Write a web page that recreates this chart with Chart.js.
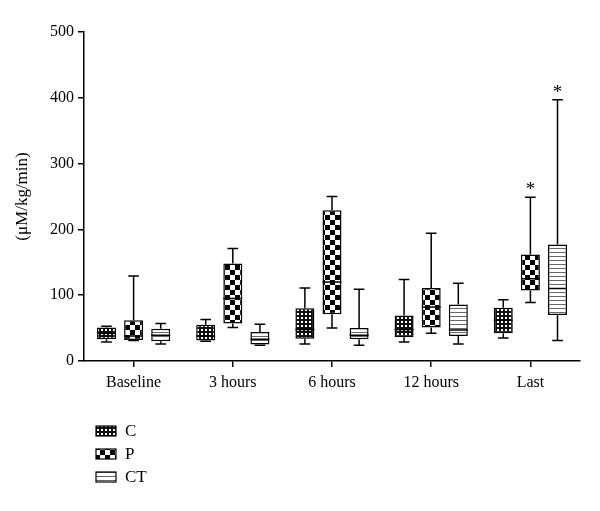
<!DOCTYPE html>
<html>
<head>
<meta charset="utf-8">
<script src="https://cdn.jsdelivr.net/npm/chart.js@4.4.0/dist/chart.umd.min.js"></script>
<style>
html, body { margin: 0; padding: 0; background: #fff; }
canvas { display: block; }
</style>
</head>
<body>
<canvas id="chart" width="600" height="511"></canvas>
<script>
// categories and box-plot summaries
var categories = ['Baseline', '3 hours', '6 hours', '12 hours', 'Last'];

var cMin = [29, 30, 26, 29, 35];
var cQ1  = [33, 31, 34, 36, 42];
var cMed = [42, 38, 48, 48, 62];
var cQ3  = [51, 55, 80, 69, 81];
var cMax = [53, 63, 111, 124, 93];

var pMin = [31, 51, 50, 42, 89];
var pQ1  = [32, 57, 71, 51, 107];
var pMed = [38, 95, 120, 82, 125];
var pQ3  = [62, 148, 229, 111, 162];
var pMax = [129, 171, 250, 194, 249];

var ctMin = [26, 24, 24, 26, 31];
var ctQ1  = [30, 25, 33, 38, 70];
var ctMed = [39, 33, 39, 47, 110];
var ctQ3  = [49, 44, 50, 86, 177];
var ctMax = [57, 56, 109, 118, 397];

var sigP  = ['', '', '', '', '*'];
var sigCT = ['', '', '', '', '*'];

var yTicks = [0, 100, 200, 300, 400, 500];

var serif = '"Liberation Serif", "DejaVu Serif", serif';

var canvas = document.getElementById('chart');
var ctx = canvas.getContext('2d');

function makePattern(kind) {
	var c = document.createElement('canvas');
	var x = c.getContext('2d');
	if (kind === 'fine') {
		c.width = 4; c.height = 4;
		x.fillStyle = '#111';
		x.fillRect(0, 0, 4, 4);
		x.fillStyle = '#fff';
		x.fillRect(1, 1, 2, 2);
	} else if (kind === 'coarse') {
		c.width = 10; c.height = 10;
		x.fillStyle = '#fff';
		x.fillRect(0, 0, 10, 10);
		x.fillStyle = '#000';
		x.fillRect(0, 0, 5, 5);
		x.fillRect(5, 5, 5, 5);
	} else {
		c.width = 4; c.height = 4;
		x.fillStyle = '#fff';
		x.fillRect(0, 0, 4, 4);
		x.fillStyle = '#666';
		x.fillRect(0, 0, 4, 1);
	}
	return ctx.createPattern(c, 'repeat');
}

function boxes(q1, q3) {
	return q1.map(function(v, i) { return [v, q3[i]]; });
}

var stats = [
	{ min: cMin, med: cMed, max: cMax, sig: null },
	{ min: pMin, med: pMed, max: pMax, sig: sigP },
	{ min: ctMin, med: ctMed, max: ctMax, sig: sigCT }
];

// whiskers, medians and stars drawn on top of the floating bars
var whiskerPlugin = {
	id: 'whiskers',
	afterDatasetsDraw: function(chart) {
		var c = chart.ctx;
		var y = chart.scales.y;
		c.save();
		c.strokeStyle = '#000';
		c.lineWidth = 1.5;
		chart.data.datasets.forEach(function(ds, di) {
			var st = stats[di];
			chart.getDatasetMeta(di).data.forEach(function(bar, i) {
				var x = bar.x, w = bar.width, cap = w * 0.28;
				var yq1 = y.getPixelForValue(ds.data[i][0]);
				var yq3 = y.getPixelForValue(ds.data[i][1]);
				var ymin = y.getPixelForValue(st.min[i]);
				var ymax = y.getPixelForValue(st.max[i]);
				var ymed = y.getPixelForValue(st.med[i]);
				c.beginPath();
				c.moveTo(x, yq3); c.lineTo(x, ymax);
				c.moveTo(x - cap, ymax); c.lineTo(x + cap, ymax);
				c.moveTo(x, yq1); c.lineTo(x, ymin);
				c.moveTo(x - cap, ymin); c.lineTo(x + cap, ymin);
				c.moveTo(x - w / 2, ymed); c.lineTo(x + w / 2, ymed);
				c.stroke();
				if (st.sig && st.sig[i]) {
					c.fillStyle = '#000';
					c.font = '19px ' + serif;
					c.textAlign = 'center';
					c.textBaseline = 'alphabetic';
					c.fillText(st.sig[i], x, ymax - 2);
				}
			});
		});
		c.restore();
	}
};

// vertical legend in the bottom-left corner
var legendPlugin = {
	id: 'boxLegend',
	afterDraw: function(chart) {
		var c = chart.ctx;
		c.save();
		chart.data.datasets.forEach(function(ds, i) {
			var yc = 431 + i * 23;
			c.fillStyle = ds.backgroundColor;
			c.fillRect(96, yc - 5, 20, 10);
			c.strokeStyle = '#000';
			c.lineWidth = 1.2;
			c.strokeRect(96, yc - 5, 20, 10);
			c.fillStyle = '#000';
			c.font = '17px ' + serif;
			c.textAlign = 'left';
			c.textBaseline = 'middle';
			c.fillText(ds.label, 125, yc + 1);
		});
		c.restore();
	}
};

new Chart(canvas, {
	type: 'bar',
	data: {
		labels: categories,
		datasets: [
			{ label: 'C', data: boxes(cQ1, cQ3), backgroundColor: makePattern('fine') },
			{ label: 'P', data: boxes(pQ1, pQ3), backgroundColor: makePattern('coarse') },
			{ label: 'CT', data: boxes(ctQ1, ctQ3), backgroundColor: makePattern('lines') }
		]
	},
	options: {
		responsive: false,
		animation: false,
		layout: {
			padding: { top: 32, right: 20, bottom: 110, left: 4 }
		},
		datasets: {
			bar: {
				borderColor: '#000',
				borderWidth: 1.5,
				borderSkipped: false,
				categoryPercentage: 0.82,
				barPercentage: 0.7
			}
		},
		plugins: {
			legend: { display: false },
			tooltip: { enabled: false }
		},
		scales: {
			x: {
				afterFit: function(s) { s.height = 40; },
				grid: { display: true, drawOnChartArea: false, drawTicks: true, tickLength: 6, color: '#000', lineWidth: 1.5, offset: false },
				border: { display: true, color: '#000', width: 1.5 },
				ticks: { color: '#000', padding: 6, font: { family: serif, size: 16 } }
			},
			y: {
				min: 0,
				max: 500,
				afterFit: function(s) { s.width = 80; },
				afterBuildTicks: function(s) { s.ticks = yTicks.map(function(v) { return { value: v }; }); },
				grid: { display: true, drawOnChartArea: false, drawTicks: true, tickLength: 6, color: '#000', lineWidth: 1.5 },
				border: { display: true, color: '#000', width: 1.5 },
				ticks: { color: '#000', padding: 4, font: { family: serif, size: 16 } },
				title: { display: true, text: '(μM/kg/min)', color: '#000', padding: { top: 8, bottom: 0 }, font: { family: serif, size: 17 } }
			}
		}
	},
	plugins: [whiskerPlugin, legendPlugin]
});
</script>
</body>
</html>
